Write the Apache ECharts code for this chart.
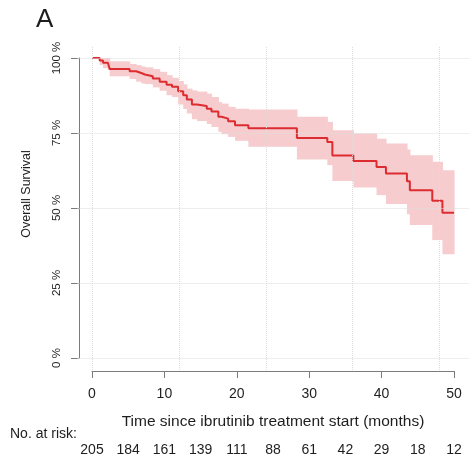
<!DOCTYPE html>
<html>
<head>
<meta charset="utf-8">
<script src="https://cdn.jsdelivr.net/npm/echarts@6/dist/echarts.min.js"></script>
<style>
    html, body { margin: 0; padding: 0; background: #fff; }
    #chart { width: 469px; height: 463px; }
</style>
</head>
<body>
<div id="chart"></div>
<script>
// KM estimate: step start (months), survival and 95% CI (%)
var timePoints = [0, 1.06, 1.52, 2.2, 2.45, 5.2, 6.1, 6.8, 7.3, 8.4, 9.35, 10.3, 11.05, 11.9, 12.6,
    13.1, 13.8, 14.5, 15.85, 16.5, 17.45, 17.9, 18.8, 19.75, 21.6, 28.3, 32.5, 33.2, 36.1, 39.3,
    40.6, 43.5, 43.9, 47.0, 48.4];
var survival = [100, 99.2, 98.4, 98.0, 96.3, 95.6, 95.0, 94.5, 93.9, 93.2, 92.1, 91.1, 90.4, 88.9, 87.6,
    86.2, 84.5, 84.0, 83.1, 82.2, 80.4, 79.8, 78.9, 77.6, 76.6, 73.3, 72.0, 67.5, 65.7, 63.7,
    61.5, 58.9, 55.9, 52.4, 48.4];
var lowerCI = [100, 97.7, 96.6, 96.0, 93.9, 93.0, 92.1, 91.5, 91.3, 90.2, 89.1, 87.6, 87.0, 84.5, 83.0,
    81.5, 79.6, 79.0, 78.0, 77.0, 75.4, 74.6, 73.7, 72.4, 70.4, 66.2, 64.3, 59.0, 56.8, 54.3,
    51.3, 47.9, 44.3, 39.3, 34.6];
var upperCI = [100, 100, 100, 100, 98.9, 98.0, 97.6, 97.2, 96.9, 96.3, 95.4, 94.3, 93.4, 92.3, 91.2,
    89.8, 89.2, 88.8, 88.1, 87.0, 85.3, 84.8, 83.7, 83.1, 82.8, 80.4, 78.7, 75.9, 74.8, 73.1,
    71.5, 69.5, 67.6, 65.4, 62.6];
var followUpEnd = 50;

// numbers at risk table
var riskTimes = [0, 5, 10, 15, 20, 25, 30, 35, 40, 45, 50];
var atRisk = [205, 184, 161, 139, 111, 88, 61, 42, 29, 18, 12];

// background grid (R grid() style)
var gridMonths = [0, 12, 24, 36, 48];
var gridPercents = [0, 25, 50, 75, 100];

var KmModule = (function (echarts) {
    var chart;
    var font = 'Liberation Sans, Arial, sans-serif';
    var axisGray = '#7b7b7b';
    var textColor = '#1e1e1e';
    var lineRed = '#dd2c30';
    var bandPink = '#f6cccf';

    var KmClass = function () {
        this.init = function () {
            chart = echarts.init(document.getElementById('chart'), null, { renderer: 'canvas' });
            chart.setOption(this.buildOption());
        };
    };

    KmClass.prototype = {
        buildOption: function () {
            var last = survival.length - 1;
            var curve = timePoints.map(function (t, i) {
                return [t, survival[i]];
            });
            curve.push([followUpEnd, survival[last]]);

            var band = timePoints.map(function (t, i) {
                var end = i < last ? timePoints[i + 1] : followUpEnd;
                return [t, end, lowerCI[i], upperCI[i]];
            });

            var gridLines = gridMonths.map(function (m) {
                return { xAxis: m };
            }).concat(gridPercents.map(function (p) {
                return { yAxis: p };
            }));

            return {
                animation: false,
                textStyle: { fontFamily: font },
                grid: [
                    // whole plot region, only used for the dotted grid
                    { left: 77.5, right: 0.5, top: 46, bottom: 93 },
                    // data region
                    { left: 92, right: 15, top: 58, bottom: 105 }
                ],
                graphic: [{
                    type: 'text',
                    left: 36,
                    top: 7,
                    style: { text: 'A', font: '26px ' + font, fill: textColor }
                }, {
                    type: 'text',
                    left: 10,
                    top: 427,
                    style: { text: 'No. at risk:', font: '14px ' + font, fill: textColor }
                }],
                xAxis: [{
                    gridIndex: 0, type: 'value', min: -2, max: 52, show: false
                }, {
                    gridIndex: 1,
                    type: 'value',
                    min: 0,
                    max: 50,
                    interval: 10,
                    position: 'bottom',
                    offset: 13,
                    axisLine: { show: true, onZero: false, lineStyle: { color: axisGray } },
                    axisTick: { show: true, length: 7, lineStyle: { color: axisGray } },
                    splitLine: { show: false },
                    axisLabel: { fontSize: 14, color: textColor, margin: 16 },
                    name: 'Time since ibrutinib treatment start (months)',
                    nameLocation: 'middle',
                    nameGap: 43,
                    nameTextStyle: { fontSize: 15.5, color: textColor }
                }, {
                    gridIndex: 1,
                    type: 'value',
                    min: 0,
                    max: 50,
                    interval: 5,
                    position: 'bottom',
                    offset: 85,
                    axisLine: { show: false, onZero: false },
                    axisTick: { show: false },
                    splitLine: { show: false },
                    axisLabel: {
                        fontSize: 14,
                        color: textColor,
                        margin: 0,
                        formatter: function (v) {
                            var k = riskTimes.indexOf(v);
                            return k < 0 ? '' : String(atRisk[k]);
                        }
                    }
                }],
                yAxis: [{
                    gridIndex: 0, type: 'value', min: -4, max: 104, show: false
                }, {
                    gridIndex: 1,
                    type: 'value',
                    min: 0,
                    max: 100,
                    interval: 25,
                    offset: 13,
                    axisLine: { show: true, onZero: false, lineStyle: { color: axisGray } },
                    axisTick: { show: true, length: 8, lineStyle: { color: axisGray } },
                    splitLine: { show: false },
                    axisLabel: {
                        rotate: 90, fontSize: 11.5, color: textColor,
                        margin: 16, formatter: '{value} %'
                    },
                    name: 'Overall Survival',
                    nameLocation: 'middle',
                    nameGap: 46,
                    nameTextStyle: { fontSize: 12.5, color: textColor, padding: [0, 0, 0, 28] }
                }],
                series: [{
                    // dummy holder for the grid lines
                    type: 'line',
                    xAxisIndex: 0,
                    yAxisIndex: 0,
                    data: [[0, 0]],
                    symbol: 'none',
                    silent: true,
                    lineStyle: { opacity: 0 },
                    markLine: {
                        silent: true,
                        symbol: 'none',
                        label: { show: false },
                        lineStyle: { color: '#dcdcdc', type: 'dotted', width: 1 },
                        data: gridLines
                    }
                }, {
                    type: 'custom',
                    xAxisIndex: 1,
                    yAxisIndex: 1,
                    silent: true,
                    data: band,
                    encode: { x: [0, 1], y: [2, 3] },
                    renderItem: function (params, api) {
                        var p0 = api.coord([api.value(0), api.value(3)]);
                        var p1 = api.coord([api.value(1), api.value(2)]);
                        return {
                            type: 'rect',
                            shape: { x: p0[0], y: p0[1], width: p1[0] - p0[0] + 0.6, height: p1[1] - p0[1] },
                            style: { fill: bandPink }
                        };
                    }
                }, {
                    type: 'line',
                    xAxisIndex: 1,
                    yAxisIndex: 1,
                    step: 'end',
                    data: curve,
                    symbol: 'none',
                    silent: true,
                    lineStyle: { color: lineRed, width: 2 }
                }]
            };
        },
        constructor: KmClass
    };
    return new KmClass();
})(echarts);
KmModule.init();
</script>
</body>
</html>
